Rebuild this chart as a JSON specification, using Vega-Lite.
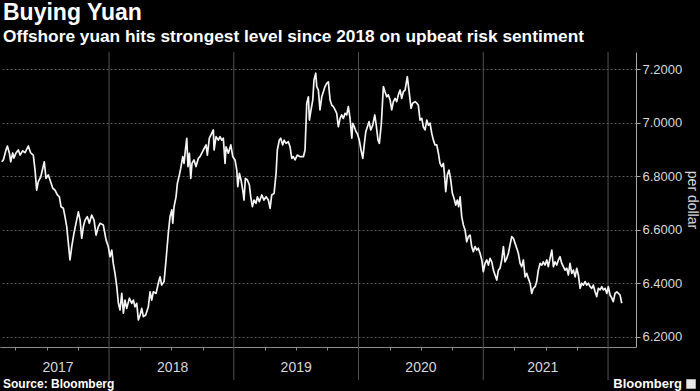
{
  "$schema": "https://vega.github.io/schema/vega-lite/v6.json",
  "width": 636,
  "height": 295,
  "autosize": {"type": "none"},
  "padding": {"left": 0, "top": 52, "right": 64, "bottom": 44},
  "background": "#000000",
  "config": {"view": {"stroke": null}, "font": "Liberation Sans"},
  "title": {
    "text": "Buying Yuan",
    "subtitle": "Offshore yuan hits strongest level since 2018 on upbeat risk sentiment",
    "anchor": "start",
    "frame": "group",
    "dx": 3,
    "color": "#ffffff",
    "subtitleColor": "#ffffff",
    "font": "Liberation Sans",
    "subtitleFont": "Liberation Sans",
    "fontSize": 23,
    "subtitleFontSize": 17.3,
    "fontWeight": "bold",
    "subtitleFontWeight": "bold",
    "offset": 6,
    "subtitlePadding": 3
  },
  "layer": [
    {
      "data": {"values": [{"t": 2018}, {"t": 2019}, {"t": 2020}, {"t": 2021}, {"t": 2022}]},
      "mark": {"type": "rule", "color": "#525252", "strokeWidth": 1},
      "encoding": {
        "x": {"field": "t", "type": "quantitative", "title": null},
        "y": {"datum": 7.2654, "type": "quantitative"},
        "y2": {"datum": 6.0392}
      }
    },
    {
      "data": {"values": [
{"t":2017.140,"v":6.855},{"t":2017.153,"v":6.862},{"t":2017.174,"v":6.899},{"t":2017.185,"v":6.914},{"t":2017.201,"v":6.888},{"t":2017.212,"v":6.855},{"t":2017.228,"v":6.888},{"t":2017.238,"v":6.869},{"t":2017.254,"v":6.888},{"t":2017.273,"v":6.899},{"t":2017.287,"v":6.880},{"t":2017.308,"v":6.896},{"t":2017.327,"v":6.889},{"t":2017.353,"v":6.914},{"t":2017.372,"v":6.888},{"t":2017.393,"v":6.880},{"t":2017.407,"v":6.824},{"t":2017.420,"v":6.749},{"t":2017.433,"v":6.781},{"t":2017.453,"v":6.799},{"t":2017.469,"v":6.831},{"t":2017.481,"v":6.855},{"t":2017.495,"v":6.793},{"t":2017.513,"v":6.806},{"t":2017.527,"v":6.787},{"t":2017.549,"v":6.756},{"t":2017.567,"v":6.749},{"t":2017.586,"v":6.731},{"t":2017.602,"v":6.724},{"t":2017.615,"v":6.687},{"t":2017.634,"v":6.681},{"t":2017.647,"v":6.650},{"t":2017.661,"v":6.612},{"t":2017.674,"v":6.550},{"t":2017.687,"v":6.488},{"t":2017.701,"v":6.538},{"t":2017.719,"v":6.588},{"t":2017.735,"v":6.625},{"t":2017.754,"v":6.668},{"t":2017.768,"v":6.637},{"t":2017.781,"v":6.569},{"t":2017.794,"v":6.612},{"t":2017.808,"v":6.637},{"t":2017.826,"v":6.650},{"t":2017.842,"v":6.625},{"t":2017.861,"v":6.656},{"t":2017.880,"v":6.637},{"t":2017.896,"v":6.581},{"t":2017.914,"v":6.612},{"t":2017.928,"v":6.625},{"t":2017.954,"v":6.619},{"t":2017.976,"v":6.563},{"t":2017.994,"v":6.538},{"t":2018.008,"v":6.500},{"t":2018.022,"v":6.525},{"t":2018.034,"v":6.475},{"t":2018.048,"v":6.438},{"t":2018.062,"v":6.388},{"t":2018.075,"v":6.326},{"t":2018.088,"v":6.301},{"t":2018.102,"v":6.363},{"t":2018.115,"v":6.289},{"t":2018.128,"v":6.338},{"t":2018.142,"v":6.307},{"t":2018.163,"v":6.345},{"t":2018.182,"v":6.326},{"t":2018.195,"v":6.338},{"t":2018.208,"v":6.313},{"t":2018.222,"v":6.326},{"t":2018.235,"v":6.264},{"t":2018.249,"v":6.282},{"t":2018.262,"v":6.307},{"t":2018.275,"v":6.276},{"t":2018.294,"v":6.282},{"t":2018.315,"v":6.313},{"t":2018.329,"v":6.369},{"t":2018.342,"v":6.338},{"t":2018.355,"v":6.369},{"t":2018.377,"v":6.363},{"t":2018.395,"v":6.401},{"t":2018.409,"v":6.425},{"t":2018.422,"v":6.394},{"t":2018.441,"v":6.407},{"t":2018.457,"v":6.488},{"t":2018.475,"v":6.588},{"t":2018.489,"v":6.650},{"t":2018.503,"v":6.675},{"t":2018.511,"v":6.625},{"t":2018.521,"v":6.687},{"t":2018.537,"v":6.724},{"t":2018.548,"v":6.775},{"t":2018.564,"v":6.806},{"t":2018.575,"v":6.831},{"t":2018.591,"v":6.874},{"t":2018.601,"v":6.849},{"t":2018.612,"v":6.899},{"t":2018.623,"v":6.943},{"t":2018.633,"v":6.837},{"t":2018.644,"v":6.887},{"t":2018.655,"v":6.793},{"t":2018.665,"v":6.849},{"t":2018.681,"v":6.862},{"t":2018.697,"v":6.837},{"t":2018.716,"v":6.868},{"t":2018.729,"v":6.874},{"t":2018.756,"v":6.899},{"t":2018.778,"v":6.918},{"t":2018.788,"v":6.880},{"t":2018.804,"v":6.943},{"t":2018.823,"v":6.961},{"t":2018.836,"v":6.974},{"t":2018.842,"v":6.899},{"t":2018.858,"v":6.949},{"t":2018.876,"v":6.936},{"t":2018.890,"v":6.949},{"t":2018.903,"v":6.936},{"t":2018.916,"v":6.943},{"t":2018.930,"v":6.849},{"t":2018.938,"v":6.911},{"t":2018.956,"v":6.887},{"t":2018.976,"v":6.918},{"t":2018.992,"v":6.874},{"t":2019.010,"v":6.862},{"t":2019.024,"v":6.824},{"t":2019.032,"v":6.762},{"t":2019.045,"v":6.812},{"t":2019.058,"v":6.787},{"t":2019.072,"v":6.749},{"t":2019.082,"v":6.712},{"t":2019.093,"v":6.793},{"t":2019.109,"v":6.787},{"t":2019.125,"v":6.768},{"t":2019.136,"v":6.724},{"t":2019.149,"v":6.687},{"t":2019.162,"v":6.712},{"t":2019.178,"v":6.700},{"t":2019.189,"v":6.724},{"t":2019.205,"v":6.706},{"t":2019.224,"v":6.731},{"t":2019.242,"v":6.712},{"t":2019.259,"v":6.724},{"t":2019.277,"v":6.712},{"t":2019.291,"v":6.681},{"t":2019.304,"v":6.731},{"t":2019.323,"v":6.737},{"t":2019.339,"v":6.812},{"t":2019.349,"v":6.899},{"t":2019.365,"v":6.936},{"t":2019.376,"v":6.943},{"t":2019.392,"v":6.918},{"t":2019.403,"v":6.936},{"t":2019.419,"v":6.924},{"t":2019.437,"v":6.930},{"t":2019.451,"v":6.911},{"t":2019.465,"v":6.868},{"t":2019.477,"v":6.874},{"t":2019.491,"v":6.862},{"t":2019.509,"v":6.880},{"t":2019.531,"v":6.874},{"t":2019.558,"v":6.874},{"t":2019.571,"v":6.899},{"t":2019.585,"v":7.074},{"t":2019.598,"v":7.098},{"t":2019.606,"v":7.011},{"t":2019.619,"v":7.049},{"t":2019.633,"v":7.086},{"t":2019.643,"v":7.161},{"t":2019.657,"v":7.186},{"t":2019.665,"v":7.136},{"t":2019.678,"v":7.123},{"t":2019.691,"v":7.049},{"t":2019.705,"v":7.098},{"t":2019.718,"v":7.117},{"t":2019.731,"v":7.136},{"t":2019.745,"v":7.148},{"t":2019.758,"v":7.154},{"t":2019.772,"v":7.086},{"t":2019.785,"v":7.067},{"t":2019.798,"v":7.061},{"t":2019.812,"v":7.049},{"t":2019.825,"v":7.036},{"t":2019.838,"v":6.986},{"t":2019.852,"v":7.017},{"t":2019.865,"v":7.030},{"t":2019.878,"v":7.017},{"t":2019.892,"v":7.036},{"t":2019.905,"v":7.030},{"t":2019.918,"v":7.061},{"t":2019.932,"v":7.017},{"t":2019.946,"v":6.943},{"t":2019.954,"v":6.999},{"t":2019.966,"v":6.986},{"t":2019.980,"v":6.967},{"t":2019.990,"v":6.961},{"t":2020.006,"v":6.936},{"t":2020.020,"v":6.899},{"t":2020.034,"v":6.868},{"t":2020.047,"v":6.924},{"t":2020.058,"v":6.967},{"t":2020.071,"v":6.986},{"t":2020.084,"v":7.005},{"t":2020.098,"v":6.974},{"t":2020.114,"v":6.992},{"t":2020.130,"v":7.030},{"t":2020.140,"v":6.999},{"t":2020.156,"v":6.936},{"t":2020.167,"v":6.924},{"t":2020.183,"v":6.999},{"t":2020.199,"v":7.136},{"t":2020.212,"v":7.117},{"t":2020.226,"v":7.098},{"t":2020.239,"v":7.105},{"t":2020.253,"v":7.086},{"t":2020.266,"v":7.049},{"t":2020.279,"v":7.080},{"t":2020.293,"v":7.092},{"t":2020.306,"v":7.080},{"t":2020.319,"v":7.105},{"t":2020.333,"v":7.123},{"t":2020.346,"v":7.092},{"t":2020.359,"v":7.117},{"t":2020.373,"v":7.123},{"t":2020.391,"v":7.173},{"t":2020.407,"v":7.111},{"t":2020.421,"v":7.055},{"t":2020.434,"v":7.074},{"t":2020.453,"v":7.080},{"t":2020.467,"v":7.074},{"t":2020.479,"v":7.067},{"t":2020.493,"v":7.011},{"t":2020.507,"v":7.017},{"t":2020.519,"v":6.986},{"t":2020.533,"v":6.974},{"t":2020.547,"v":7.011},{"t":2020.560,"v":6.992},{"t":2020.573,"v":6.999},{"t":2020.587,"v":6.961},{"t":2020.600,"v":6.936},{"t":2020.613,"v":6.918},{"t":2020.627,"v":6.918},{"t":2020.640,"v":6.887},{"t":2020.653,"v":6.849},{"t":2020.667,"v":6.837},{"t":2020.680,"v":6.849},{"t":2020.688,"v":6.812},{"t":2020.699,"v":6.743},{"t":2020.712,"v":6.806},{"t":2020.725,"v":6.824},{"t":2020.739,"v":6.787},{"t":2020.752,"v":6.737},{"t":2020.766,"v":6.718},{"t":2020.779,"v":6.693},{"t":2020.792,"v":6.712},{"t":2020.803,"v":6.687},{"t":2020.814,"v":6.724},{"t":2020.827,"v":6.650},{"t":2020.840,"v":6.619},{"t":2020.854,"v":6.600},{"t":2020.867,"v":6.556},{"t":2020.880,"v":6.575},{"t":2020.894,"v":6.581},{"t":2020.907,"v":6.538},{"t":2020.920,"v":6.519},{"t":2020.934,"v":6.538},{"t":2020.948,"v":6.525},{"t":2020.960,"v":6.532},{"t":2020.974,"v":6.513},{"t":2020.988,"v":6.488},{"t":2021.000,"v":6.444},{"t":2021.014,"v":6.475},{"t":2021.028,"v":6.488},{"t":2021.041,"v":6.469},{"t":2021.054,"v":6.494},{"t":2021.068,"v":6.481},{"t":2021.081,"v":6.450},{"t":2021.094,"v":6.432},{"t":2021.108,"v":6.413},{"t":2021.121,"v":6.450},{"t":2021.134,"v":6.457},{"t":2021.148,"v":6.488},{"t":2021.161,"v":6.538},{"t":2021.174,"v":6.481},{"t":2021.188,"v":6.494},{"t":2021.201,"v":6.513},{"t":2021.214,"v":6.544},{"t":2021.228,"v":6.575},{"t":2021.241,"v":6.569},{"t":2021.255,"v":6.550},{"t":2021.268,"v":6.532},{"t":2021.281,"v":6.513},{"t":2021.295,"v":6.475},{"t":2021.308,"v":6.463},{"t":2021.321,"v":6.488},{"t":2021.335,"v":6.425},{"t":2021.348,"v":6.438},{"t":2021.361,"v":6.419},{"t":2021.375,"v":6.401},{"t":2021.388,"v":6.363},{"t":2021.401,"v":6.382},{"t":2021.415,"v":6.388},{"t":2021.428,"v":6.407},{"t":2021.441,"v":6.450},{"t":2021.455,"v":6.475},{"t":2021.469,"v":6.469},{"t":2021.481,"v":6.481},{"t":2021.495,"v":6.469},{"t":2021.509,"v":6.488},{"t":2021.521,"v":6.463},{"t":2021.535,"v":6.494},{"t":2021.549,"v":6.525},{"t":2021.562,"v":6.463},{"t":2021.575,"v":6.481},{"t":2021.589,"v":6.469},{"t":2021.602,"v":6.488},{"t":2021.615,"v":6.500},{"t":2021.629,"v":6.475},{"t":2021.642,"v":6.463},{"t":2021.655,"v":6.450},{"t":2021.669,"v":6.457},{"t":2021.682,"v":6.432},{"t":2021.695,"v":6.475},{"t":2021.709,"v":6.438},{"t":2021.722,"v":6.450},{"t":2021.736,"v":6.425},{"t":2021.749,"v":6.457},{"t":2021.762,"v":6.432},{"t":2021.776,"v":6.382},{"t":2021.789,"v":6.401},{"t":2021.802,"v":6.394},{"t":2021.816,"v":6.407},{"t":2021.829,"v":6.394},{"t":2021.842,"v":6.401},{"t":2021.856,"v":6.388},{"t":2021.869,"v":6.382},{"t":2021.882,"v":6.394},{"t":2021.896,"v":6.369},{"t":2021.909,"v":6.351},{"t":2021.922,"v":6.382},{"t":2021.936,"v":6.376},{"t":2021.950,"v":6.388},{"t":2021.962,"v":6.376},{"t":2021.976,"v":6.382},{"t":2021.990,"v":6.363},{"t":2022.002,"v":6.388},{"t":2022.016,"v":6.357},{"t":2022.030,"v":6.345},{"t":2022.042,"v":6.332},{"t":2022.056,"v":6.363},{"t":2022.070,"v":6.369},{"t":2022.083,"v":6.363},{"t":2022.096,"v":6.357},{"t":2022.110,"v":6.326}
      ]},
      "mark": {"type": "line", "color": "#f4f4f4", "strokeWidth": 1.7, "strokeJoin": "round"},
      "encoding": {
        "x": {
          "field": "t", "type": "quantitative",
          "scale": {"domain": [2017.126, 2022.224], "nice": false, "zero": false},
          "axis": {
            "orient": "bottom",
            "title": null,
            "values": [2017.25, 2017.5, 2017.75, 2018.25, 2018.5, 2018.75, 2019.25, 2019.5, 2019.75, 2020.25, 2020.5, 2020.75, 2021.25, 2021.5, 2021.75],
            "domainColor": "#8c8c8c",
            "tickColor": "#8c8c8c",
            "tickSize": 3,
            "grid": false,
            "labels": false
          }
        },
        "y": {
          "field": "v", "type": "quantitative",
          "scale": {"domain": [6.1626, 7.2654], "nice": false, "zero": false},
          "axis": {
            "orient": "right",
            "title": "per dollar",
            "titleColor": "#d8d8d8",
            "titleFont": "Liberation Sans",
            "titleFontSize": 14,
            "titleFontWeight": "normal",
            "titleAngle": 90,
            "titlePadding": 3,
            "values": [6.2, 6.3, 6.4, 6.5, 6.6, 6.7, 6.8, 6.9, 7.0, 7.1, 7.2],
            "labelExpr": "round(datum.value * 10) % 2 == 0 ? format(datum.value, '.4f') : ''",
            "grid": true,
            "gridColor": "#5c5c5c",
            "gridDash": [2, 2],
            "gridOpacity": {"condition": {"test": "round(datum.value * 10) % 2 == 0", "value": 1}, "value": 0},
            "domainColor": "#a8a8a8",
            "tickColor": "#a8a8a8",
            "tickSize": 4,
            "labelColor": "#d8d8d8",
            "labelFont": "Liberation Sans",
            "labelFontSize": 13,
            "labelPadding": 2,
            "labelOverlap": false,
            "labelBound": false,
            "labelFlush": false
          }
        }
      }
    },
    {
      "data": {"values": [
        {"t": 2017.591, "v": 6.0841, "s": "2017"},
        {"t": 2018.51, "v": 6.0841, "s": "2018"},
        {"t": 2019.5, "v": 6.0841, "s": "2019"},
        {"t": 2020.5, "v": 6.0841, "s": "2020"},
        {"t": 2021.477, "v": 6.0841, "s": "2021"}
      ]},
      "mark": {"type": "text", "align": "center", "baseline": "middle", "color": "#d8d8d8", "font": "Liberation Sans", "fontSize": 14},
      "encoding": {
        "x": {"field": "t", "type": "quantitative", "title": null},
        "y": {"field": "v", "type": "quantitative", "title": "per dollar"},
        "text": {"field": "s"}
      }
    },
    {
      "data": {"values": [{"t": 2017.150, "v": 6.0243, "s": "Source: Bloomberg"}]},
      "mark": {"type": "text", "align": "left", "baseline": "middle", "color": "#ffffff", "font": "Liberation Sans", "fontWeight": "bold", "fontSize": 12},
      "encoding": {
        "x": {"field": "t", "type": "quantitative", "title": null},
        "y": {"field": "v", "type": "quantitative", "title": "per dollar"},
        "text": {"field": "s"}
      }
    },
    {
      "data": {"values": [{"t": 2022.592, "v": 6.0243, "s": "Bloomberg"}]},
      "mark": {"type": "text", "align": "right", "baseline": "middle", "color": "#ffffff", "font": "Liberation Sans", "fontWeight": "bold", "fontSize": 13},
      "encoding": {
        "x": {"field": "t", "type": "quantitative", "title": null},
        "y": {"field": "v", "type": "quantitative", "title": "per dollar"},
        "text": {"field": "s"}
      }
    },
    {
      "data": {"values": [{"t": 2022.665, "v": 6.0243}]},
      "mark": {"type": "point", "shape": "square", "filled": true, "color": "#e8e8e8", "size": 90, "opacity": 1},
      "encoding": {
        "x": {"field": "t", "type": "quantitative", "title": null},
        "y": {"field": "v", "type": "quantitative", "title": "per dollar"}
      }
    }
  ]
}
